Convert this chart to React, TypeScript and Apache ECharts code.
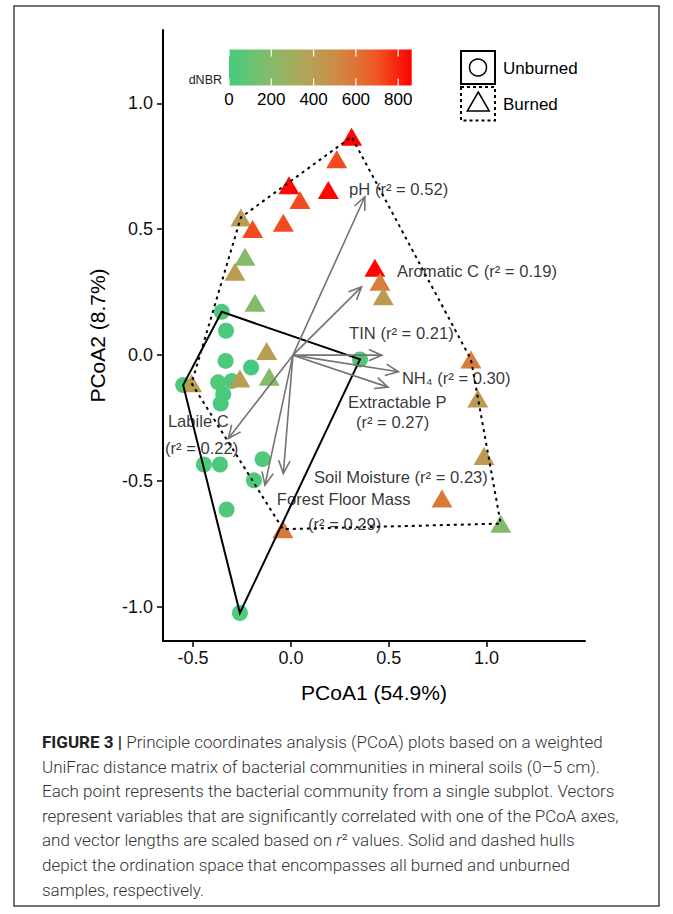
import React, { useEffect, useRef } from "react";
import * as echarts from "echarts";

// ---------- data ----------
const burnedX = [0.310, 0.234, -0.010, 0.191, 0.046, -0.256, -0.196, -0.039, -0.235, -0.286, -0.184, 0.429, 0.455, 0.472, -0.124, -0.261, -0.111, -0.508, 0.920, 0.955, 0.987, 0.772, 1.072, -0.041];
const burnedY = [0.867, 0.778, 0.675, 0.656, 0.616, 0.547, 0.501, 0.526, 0.391, 0.331, 0.208, 0.347, 0.291, 0.234, 0.016, -0.093, -0.086, -0.112, -0.017, -0.172, -0.400, -0.569, -0.669, -0.691];
const burnedDNBR = [860, 720, 850, 850, 720, 400, 720, 720, 190, 400, 190, 860, 560, 420, 400, 400, 190, 400, 560, 420, 420, 580, 190, 580];

const unburnedX = [-0.354, -0.332, -0.334, -0.204, -0.551, -0.372, -0.303, -0.346, -0.359, -0.445, -0.363, -0.145, -0.189, -0.329, -0.261, 0.353];
const unburnedY = [0.172, 0.097, -0.023, -0.049, -0.119, -0.108, -0.103, -0.155, -0.192, -0.434, -0.434, -0.413, -0.497, -0.613, -1.024, -0.017];
const unburnedDNBR = [20, 20, 30, 0, 25, 40, 35, 15, 10, 30, 25, 30, 20, 35, 30, 50];

const vectorOrigin = [0.01, 0.0];
const vectorNames = ["pH", "Aromatic C", "TIN", "NH4", "Extractable P", "Labile C", "Soil Moisture", "Forest Floor Mass"];
const vectorX = [0.378, 0.361, 0.464, 0.549, 0.496, -0.32, -0.039, -0.133];
const vectorY = [0.629, 0.271, 0.0, -0.066, -0.127, -0.331, -0.47, -0.516];

const labelTexts = ["pH (r² = 0.52)", "Aromatic C (r² = 0.19)", "TIN (r² = 0.21)", "NH₄ (r² = 0.30)", "Extractable P", "(r² = 0.27)", "Labile C", "(r² = 0.22)", "Soil Moisture (r² = 0.23)", "Forest Floor Mass", "(r² = 0.29)"];
const labelX = [0.297, 0.542, 0.297, 0.567, 0.291, 0.332, -0.629, -0.644, 0.118, -0.072, 0.087];
const labelY = [0.656, 0.334, 0.087, -0.091, -0.187, -0.266, -0.262, -0.369, -0.485, -0.572, -0.671];

const xTicks = [-0.5, 0.0, 0.5, 1.0];
const yTicks = [-1.0, -0.5, 0.0, 0.5, 1.0];
const colorbarTicks = [0, 200, 400, 600, 800];
const dnbrMax = 864;
const dnbrColors = ["#45CB7F", "#7FBD6C", "#ADA75A", "#CF8944", "#EE5A25", "#FF0000"];

const xLabel = "PCoA1 (54.9%)";
const yLabel = "PCoA2 (8.7%)";
const legendNames = ["Unburned", "Burned"];

const captionLines = [
  "{b|FIGURE 3 |} Principle coordinates analysis (PCoA) plots based on a weighted",
  "UniFrac distance matrix of bacterial communities in mineral soils (0–5 cm).",
  "Each point represents the bacterial community from a single subplot. Vectors",
  "represent variables that are significantly correlated with one of the PCoA axes,",
  "and vector lengths are scaled based on {i|r}² values. Solid and dashed hulls",
  "depict the ordination space that encompasses all burned and unburned",
  "samples, respectively.",
];

// ---------- helpers ----------
function convexHull(pts: number[][]): number[][] {
  const p = pts.slice().sort((a, b) => (a[0] === b[0] ? a[1] - b[1] : a[0] - b[0]));
  const cross = (o: number[], a: number[], b: number[]) => (a[0] - o[0]) * (b[1] - o[1]) - (a[1] - o[1]) * (b[0] - o[0]);
  const lower: number[][] = [];
  for (const q of p) {
    while (lower.length >= 2 && cross(lower[lower.length - 2], lower[lower.length - 1], q) <= 0) lower.pop();
    lower.push(q);
  }
  const upper: number[][] = [];
  for (let i = p.length - 1; i >= 0; i--) {
    const q = p[i];
    while (upper.length >= 2 && cross(upper[upper.length - 2], upper[upper.length - 1], q) <= 0) upper.pop();
    upper.push(q);
  }
  upper.pop();
  lower.pop();
  return lower.concat(upper);
}

const FONT = "Liberation Sans, Arial, Helvetica, sans-serif";
const CAPFONT = "Roboto, Liberation Sans, sans-serif";

export default function App() {
  const ref = useRef<HTMLDivElement>(null);

  useEffect(() => {
    document.body.style.margin = "0";
    if (!ref.current) return;
    const chart = echarts.init(ref.current, undefined, { renderer: "svg" });

    const burnedPts = burnedX.map((x, i) => [x, burnedY[i], burnedDNBR[i]]);
    const unburnedPts = unburnedX.map((x, i) => [x, unburnedY[i], unburnedDNBR[i]]);
    const burnedHull = convexHull(burnedX.map((x, i) => [x, burnedY[i]]));
    const unburnedHull = convexHull(unburnedX.map((x, i) => [x, unburnedY[i]]));
    const vectors = vectorNames.map((n, i) => [vectorOrigin[0], vectorOrigin[1], vectorX[i], vectorY[i], n]);
    const labels = labelTexts.map((t, i) => [labelX[i], labelY[i], t]);

    const hullSeries = (hull: number[][], dashed: boolean) => ({
      type: "custom",
      silent: true,
      z: 3,
      data: [[hull[0][0], hull[0][1]]],
      encode: { x: 0, y: 1 },
      renderItem: (_p: any, api: any) => {
        const pts = hull.map((h) => api.coord(h));
        return {
          type: "polygon",
          shape: { points: pts },
          style: {
            fill: "none",
            stroke: "#000",
            lineWidth: 2,
            lineDash: dashed ? [3, 4] : null,
          },
        };
      },
    });

    // colorbar geometry
    const cbLeft = 229, cbWidth = 182.7, cbTop = 49.5, cbHeight = 36;
    const cbX = (v: number) => cbLeft + (v / dnbrMax) * cbWidth;

    const graphics: any[] = [
      {
        type: "rect",
        shape: { x: 14, y: 6, width: 645, height: 900 },
        style: { fill: "none", stroke: "#444", lineWidth: 1.5 },
        silent: true,
      },
      {
        type: "rect",
        shape: { x: cbLeft, y: cbTop, width: cbWidth, height: cbHeight },
        style: {
          fill: new echarts.graphic.LinearGradient(
            0, 0, 1, 0,
            dnbrColors.map((c, i) => ({ offset: i / (dnbrColors.length - 1), color: c }))
          ),
        },
        silent: true,
      },
      {
        type: "text",
        x: 222,
        y: 80,
        style: { text: "dNBR", fontSize: 12.5, fontFamily: FONT, fill: "#222", align: "right", verticalAlign: "middle" },
      },
    ];
    colorbarTicks.forEach((t) => {
      const x = cbX(t);
      graphics.push(
        { type: "line", shape: { x1: x, y1: cbTop, x2: x, y2: cbTop + 7 }, style: { stroke: "#fff", lineWidth: 1.2 }, silent: true },
        { type: "line", shape: { x1: x, y1: cbTop + cbHeight - 7, x2: x, y2: cbTop + cbHeight }, style: { stroke: "#fff", lineWidth: 1.2 }, silent: true },
        {
          type: "text",
          x,
          y: 99,
          style: { text: String(t), fontSize: 17, fontFamily: FONT, fill: "#000", align: "center", verticalAlign: "middle" },
        }
      );
    });
    // shape legend
    graphics.push(
      { type: "rect", shape: { x: 461, y: 51, width: 34, height: 33 }, style: { fill: "#fff", stroke: "#000", lineWidth: 2 }, silent: true },
      { type: "circle", shape: { cx: 478, cy: 67.5, r: 8.5 }, style: { fill: "none", stroke: "#000", lineWidth: 1.5 }, silent: true },
      { type: "rect", shape: { x: 461, y: 87, width: 34, height: 33.5 }, style: { fill: "#fff", stroke: "#000", lineWidth: 2, lineDash: [3, 3] }, silent: true },
      { type: "polygon", shape: { points: [[478.3, 92], [467.3, 111], [489.3, 111]] }, style: { fill: "none", stroke: "#000", lineWidth: 1.5 }, silent: true },
      { type: "text", x: 503, y: 68, style: { text: legendNames[0], fontSize: 17, fontFamily: FONT, fill: "#000", verticalAlign: "middle" } },
      { type: "text", x: 503, y: 104, style: { text: legendNames[1], fontSize: 17, fontFamily: FONT, fill: "#000", verticalAlign: "middle" } }
    );
    // caption
    captionLines.forEach((line, i) => {
      graphics.push({
        type: "text",
        x: 42,
        y: 742 + i * 24.6,
        style: {
          text: line,
          fontSize: 17,
          fontFamily: CAPFONT,
          fontWeight: 300,
          fill: "#333",
          verticalAlign: "middle",
          rich: {
            b: { fontSize: 17, fontFamily: CAPFONT, fontWeight: "bold", fill: "#222" },
            i: { fontSize: 17, fontFamily: CAPFONT, fontWeight: 300, fontStyle: "italic", fill: "#333" },
          },
        },
      });
    });

    const axisCommon = {
      type: "value",
      nameLocation: "middle",
      nameTextStyle: { fontSize: 21, fontFamily: FONT, color: "#000" },
      axisLine: { show: true, onZero: false, lineStyle: { color: "#000", width: 2 } },
      splitLine: { show: false },
    };

    chart.setOption({
      animation: false,
      backgroundColor: "#fff",
      textStyle: { fontFamily: FONT },
      grid: { left: 163, right: 88, top: 30, bottom: 273, containLabel: false, outerBoundsMode: "none" },
      xAxis: {
        ...axisCommon,
        min: -0.654,
        max: 1.503,
        name: xLabel,
        nameGap: 41,
        axisTick: { show: true, length: 6, customValues: xTicks, lineStyle: { color: "#000", width: 1.5 } },
        axisLabel: { customValues: xTicks, formatter: (v: number) => v.toFixed(1), fontSize: 18, color: "#111", margin: 8, fontFamily: FONT },
      },
      yAxis: {
        ...axisCommon,
        min: -1.135,
        max: 1.291,
        name: yLabel,
        nameGap: 55,
        nameRotate: 90,
        axisTick: { show: true, length: 6, customValues: yTicks, lineStyle: { color: "#000", width: 1.5 } },
        axisLabel: { customValues: yTicks, formatter: (v: number) => v.toFixed(1), fontSize: 18, color: "#111", margin: 10, fontFamily: FONT },
      },
      visualMap: {
        show: false,
        type: "continuous",
        dimension: 2,
        min: 0,
        max: dnbrMax,
        seriesIndex: [0, 1],
        inRange: { color: dnbrColors },
      },
      graphic: graphics,
      series: [
        {
          name: legendNames[0],
          type: "scatter",
          symbol: "circle",
          symbolSize: 16,
          z: 2,
          data: unburnedPts,
          itemStyle: { opacity: 1 },
        },
        {
          name: legendNames[1],
          type: "scatter",
          symbol: "triangle",
          symbolSize: [21, 18],
          z: 2,
          data: burnedPts,
          itemStyle: { opacity: 1 },
        },
        hullSeries(unburnedHull, false),
        hullSeries(burnedHull, true),
        {
          type: "custom",
          silent: true,
          z: 4,
          data: vectors,
          encode: { x: [0, 2], y: [1, 3] },
          renderItem: (_p: any, api: any) => {
            const s = api.coord([api.value(0), api.value(1)]);
            const e = api.coord([api.value(2), api.value(3)]);
            const ang = Math.atan2(e[1] - s[1], e[0] - s[0]);
            const L = 14, A = Math.PI / 7.5;
            const p1 = [e[0] - L * Math.cos(ang - A), e[1] - L * Math.sin(ang - A)];
            const p2 = [e[0] - L * Math.cos(ang + A), e[1] - L * Math.sin(ang + A)];
            return {
              type: "group",
              children: [
                { type: "line", shape: { x1: s[0], y1: s[1], x2: e[0], y2: e[1] }, style: { stroke: "#737373", lineWidth: 1.6 } },
                { type: "polyline", shape: { points: [p1, e, p2] }, style: { stroke: "#737373", lineWidth: 1.6, fill: "none" } },
              ],
            };
          },
        },
        {
          type: "scatter",
          silent: true,
          z: 5,
          symbolSize: 0,
          data: labels,
          label: {
            show: true,
            position: "right",
            distance: 0,
            formatter: (p: any) => p.value[2],
            fontSize: 16.6,
            fontFamily: FONT,
            color: "#000",
          },
        },
      ],
    });

    return () => chart.dispose();
  }, []);

  return <div ref={ref} style={{ width: 673, height: 914 }} />;
}
